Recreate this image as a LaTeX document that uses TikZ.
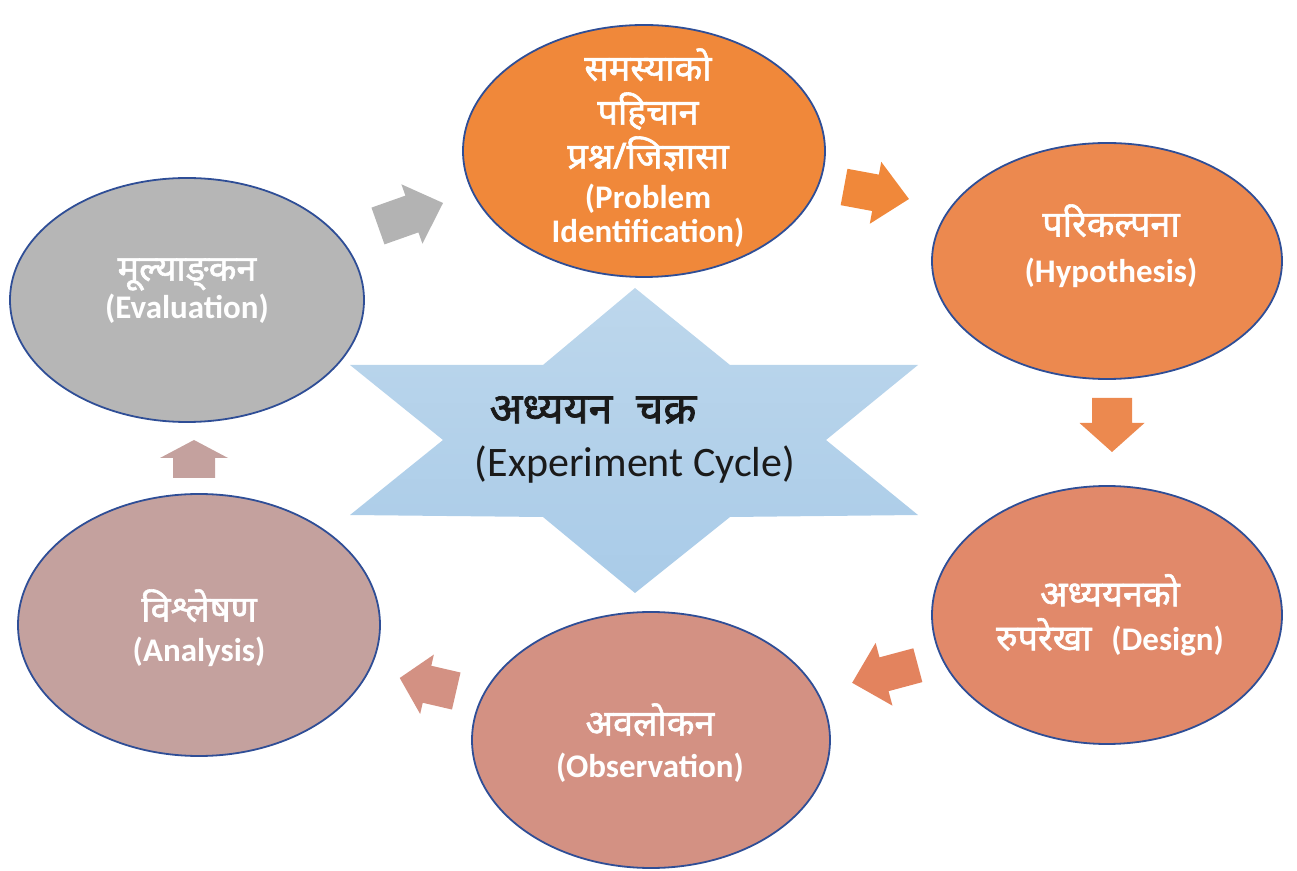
\documentclass[tikz,border=0pt]{standalone}
\usepackage{fontspec}
\setmainfont{Carlito}
\newfontfamily\devb[Script=Devanagari,FakeBold=1.6]{Noto Sans}
\newfontfamily\carl{Carlito}
\usetikzlibrary{shapes.geometric}
\definecolor{cEdge}{HTML}{2F4E96}
\definecolor{cTop}{HTML}{F0883A}
\definecolor{cHyp}{HTML}{EC894F}
\definecolor{cDes}{HTML}{E1896A}
\definecolor{cObs}{HTML}{D39183}
\definecolor{cAna}{HTML}{C4A19E}
\definecolor{cEva}{HTML}{B6B6B6}
\definecolor{cStarT}{HTML}{BDD7EC}
\definecolor{cStarB}{HTML}{A9CBE8}
\definecolor{cGrayA}{HTML}{B3B3B3}
\definecolor{cDesA}{HTML}{E3835E}
\definecolor{cTitle}{HTML}{1A1A1A}
% block arrow: cx, cy, angle, length, shaft width, head width, head length, colour
\newcommand\barrow[8]{%
  \begin{scope}[shift={(#1,#2)},rotate=#3]
    \fill[#8] ({-#4/2},{-#5/2}) -- ({#4/2-#7},{-#5/2}) -- ({#4/2-#7},{-#6/2})
      -- ({#4/2},0) -- ({#4/2-#7},{#6/2}) -- ({#4/2-#7},{#5/2})
      -- ({-#4/2},{#5/2}) -- cycle;
  \end{scope}}
\newcommand\dv[1]{{\mdseries\devb\fontsize{18}{20}\selectfont #1}}
\begin{document}
\begin{tikzpicture}[x=0.5pt,y=-0.5pt,
  bubble/.style={ellipse, draw=cEdge, line width=0.9pt, inner sep=0pt},
  lbl/.style={text=white, align=center, inner sep=0pt,
    font=\fontsize{16.5}{20}\selectfont\bfseries}]
\useasboundingbox (0,0) rectangle (1297,871);
% central star
\shade[top color=cStarT, bottom color=cStarB]
  (635,288) -- (730,365) -- (918,365) -- (826,440) -- (918,515) -- (730,517)
  -- (635,593) -- (543,517) -- (350,515) -- (443,440) -- (350,365) -- (543,365) -- cycle;
\node[text=cTitle, inner sep=0pt] (title) at (593,410)
  {\devb\fontsize{21.5}{26}\selectfont अध्ययन\hspace{0.55em}चक्र};
\node[text=cTitle, inner sep=0pt] (subtitle) at (635,465)
  {\carl\fontsize{21}{24}\selectfont (Experiment Cycle)};
% ellipses
\node[bubble, fill=cTop, minimum width=181pt, minimum height=126pt] (prob) at (644,151) {};
\node[bubble, fill=cHyp, minimum width=175pt, minimum height=118pt] (hyp) at (1107,261) {};
\node[bubble, fill=cDes, minimum width=175pt, minimum height=129pt] (des) at (1107,615) {};
\node[bubble, fill=cObs, minimum width=179pt, minimum height=128pt] (obs) at (651,740) {};
\node[bubble, fill=cAna, minimum width=181pt, minimum height=131pt] (ana) at (199,625) {};
\node[bubble, fill=cEva, minimum width=177pt, minimum height=122pt] (eva) at (187,300) {};
% labels
\node[lbl] (tprob) at (648,148) {\dv{समस्याको}\\[2pt] \dv{पहिचान}\\[2pt] \dv{प्रश्न/जिज्ञासा}\\[0pt] (Problem\\[-3pt] Identification)};
\node[lbl] (thyp) at (1111,246) {\dv{परिकल्पना}\\[3pt] (Hypothesis)};
\node[lbl] (tdes) at (1110,615) {\dv{अध्ययनको}\\[2pt] \dv{रुपरेखा}\hspace{0.6em}(Design)};
\node[lbl] (tobs) at (650,743) {\dv{अवलोकन}\\[1pt] (Observation)};
\node[lbl] (tana) at (199,628) {\dv{विश्लेषण}\\[0pt] (Analysis)};
\node[lbl] (teva) at (187,291) {\dv{मूल्याङ्^^^^200cकन}\\[-1pt] (Evaluation)};
% block arrows
\barrow{410.5}{214.5}{19.5}{69}{39}{63}{33}{cGrayA}
\barrow{876.5}{193}{-10.5}{66}{37}{63}{34}{cTop}
\barrow{1112}{425}{-90}{54}{40}{65}{29}{cHyp}
\barrow{885}{674}{195}{68}{35}{65}{33}{cDesA}
\barrow{428}{684.5}{167}{58}{38}{61}{28}{cObs}
\barrow{194}{459}{90}{38}{42}{68}{18}{cAna}
\end{tikzpicture}
\end{document}
